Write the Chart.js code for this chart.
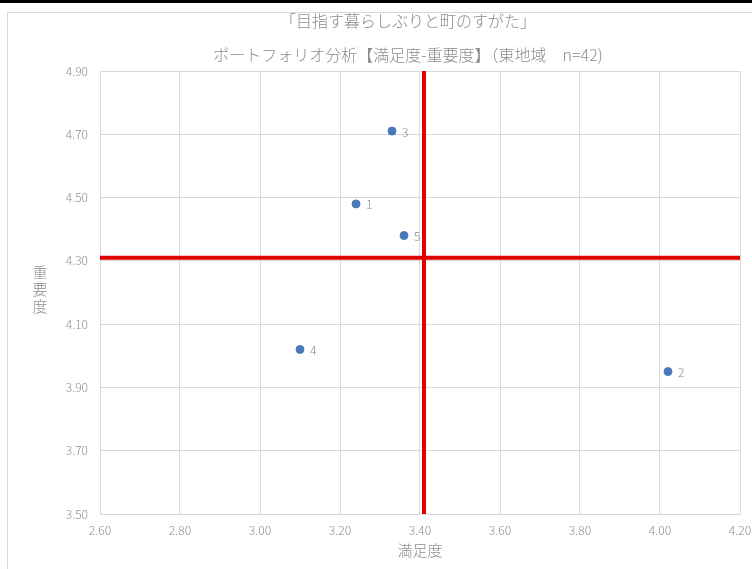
<!DOCTYPE html>
<html lang="ja">
<head>
<meta charset="utf-8">
<script src="https://cdn.jsdelivr.net/npm/chart.js@4/dist/chart.umd.min.js"></script>
<style>
  html, body { margin: 0; padding: 0; background: #fff; }
  body { width: 752px; height: 569px; position: relative; overflow: hidden; font-family: "Noto Sans CJK JP", sans-serif; }
  .topbar { position: absolute; left: 0; top: 0; width: 752px; height: 3px; background: #000; }
  .frame { position: absolute; left: 7px; top: 12px; width: 800px; height: 600px; border: 1px solid #d9d9d9; }
  #wrap { position: absolute; left: 0; top: 0; width: 752px; height: 569px; }
</style>
</head>
<body>
<div class="topbar"></div>
<div class="frame"></div>
<div id="wrap"><canvas id="chart"></canvas></div>
<script>
// 項目番号と値（満足度, 重要度）
const itemLabels = ['1', '2', '3', '4', '5'];
const satisfaction = [3.24, 4.02, 3.33, 3.10, 3.36];
const importance = [4.48, 3.95, 4.71, 4.02, 4.38];

// 平均線
const meanSatisfaction = 3.41;
const meanImportance = 4.31;

// 軸の範囲
const xMin = 2.6, xMax = 4.2;
const yMin = 3.5, yMax = 4.9;
const tickStep = 0.2;

const titleLines = ['「目指す暮らしぶりと町のすがた」', 'ポートフォリオ分析【満足度-重要度】（東地域　n=42)'];
const xTitle = '満足度';
const yTitle = '重要度';

const grey = '#8c8c8c';
const font = '"Noto Sans CJK JP", sans-serif';

// タイトル・縦書き軸ラベル・データラベル
const labelsPlugin = {
    id: 'labelsPlugin',
    afterDatasetsDraw(chart) {
        const ctx = chart.ctx;
        ctx.save();
        ctx.fillStyle = grey;
        ctx.textAlign = 'center';
        ctx.textBaseline = 'middle';
        ctx.font = '300 16px ' + font;
        ctx.fillText(titleLines[0], 408, 21);
        ctx.fillText(titleLines[1], 408, 55);

        ctx.font = '300 15px ' + font;
        const chars = Array.from(yTitle);
        chars.forEach((c, i) => ctx.fillText(c, 40, 272 + i * 17));

        ctx.font = '300 12px ' + font;
        ctx.textAlign = 'left';
        const meta = chart.getDatasetMeta(2);
        meta.data.forEach((pt, i) => {
            ctx.fillText(itemLabels[i], pt.x + 10, pt.y + 1);
        });
        ctx.restore();
    }
};

const points = satisfaction.map((v, i) => ({ x: v, y: importance[i] }));

new Chart(document.getElementById('chart').getContext('2d'), {
    type: 'scatter',
    data: {
        datasets: [
            {
                type: 'line',
                data: [{ x: xMin, y: meanImportance }, { x: xMax, y: meanImportance }],
                borderColor: '#e00000',
                borderWidth: 4,
                pointRadius: 0,
                order: 2
            },
            {
                type: 'line',
                data: [{ x: meanSatisfaction, y: yMin }, { x: meanSatisfaction, y: yMax }],
                borderColor: '#e00000',
                borderWidth: 4,
                pointRadius: 0,
                order: 2
            },
            {
                data: points,
                backgroundColor: '#4a78b8',
                borderColor: '#4a78b8',
                pointRadius: 4,
                pointHoverRadius: 4,
                order: 1
            }
        ]
    },
    options: {
        responsive: true,
        maintainAspectRatio: false,
        animation: false,
        layout: { padding: { top: 71, right: 12, left: 0, bottom: 10 } },
        plugins: {
            legend: { display: false },
            tooltip: { enabled: false },
            title: { display: false }
        },
        scales: {
            x: {
                type: 'linear',
                min: xMin,
                max: xMax,
                afterFit(scale) {
                    scale.height = 45;
                    scale.paddingLeft = 0;
                    scale.paddingRight = 0;
                },
                ticks: {
                    stepSize: tickStep,
                    color: grey,
                    font: { family: font, size: 12, weight: 300 },
                    padding: 9,
                    maxRotation: 0,
                    callback: v => v.toFixed(2)
                },
                grid: { color: '#d9d9d9', drawTicks: false },
                border: { color: '#d9d9d9' },
                title: {
                    display: true,
                    text: xTitle,
                    color: grey,
                    font: { family: font, size: 15, weight: 300 },
                    padding: { top: 0, bottom: 0 }
                }
            },
            y: {
                type: 'linear',
                min: yMin,
                max: yMax,
                afterFit(scale) { scale.width = 100; },
                ticks: {
                    stepSize: tickStep,
                    color: grey,
                    font: { family: font, size: 12, weight: 300 },
                    padding: 12,
                    callback: v => v.toFixed(2)
                },
                grid: { color: '#d9d9d9', drawTicks: false },
                border: { color: '#d9d9d9' }
            }
        }
    },
    plugins: [labelsPlugin]
});
</script>
</body>
</html>
